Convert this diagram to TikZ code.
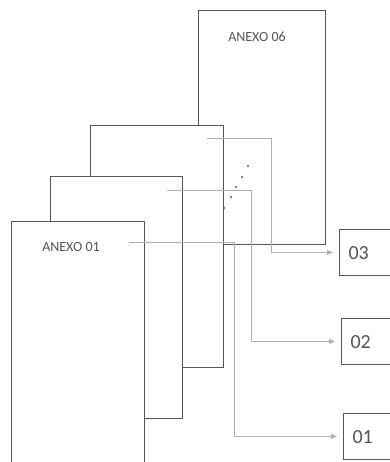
\documentclass[tikz,border=0pt]{standalone}
\usepackage{fontspec}
\setmainfont{Carlito}
\usepackage{xcolor}
\usetikzlibrary{arrows.meta, positioning, calc}
\definecolor{sheetgray}{RGB}{85,85,85}
\definecolor{arrgray}{RGB}{175,175,175}

\begin{document}
\begin{tikzpicture}[x=1pt, y=-1pt,
    sheet/.style={rectangle, draw=sheetgray, fill=white, line width=0.8pt, anchor=north west, inner sep=0pt, minimum width=#1},
    tag/.style={rectangle, draw=sheetgray, fill=white, line width=0.8pt, anchor=north west, inner sep=0pt, minimum width=60pt, minimum height=46pt},
    arr/.style={-{Triangle[length=6pt, width=5pt]}, line width=0.9pt, arrgray, shorten >=6pt},
    lbl/.style={font=\fontsize{14}{16}\selectfont, text=sheetgray},
    num/.style={font=\fontsize{20}{23}\selectfont, text=sheetgray}
]
\useasboundingbox (0,0) rectangle (389,462);

% stacked sheets, back to front
\node[sheet=127pt, minimum height=234pt] (p6) at (198,10) {};
\node[sheet=133pt, minimum height=242pt] (p3) at (90,125) {};
\node[sheet=132pt, minimum height=242pt] (p2) at (50,176) {};
\node[sheet=133pt, minimum height=260pt] (p1) at (11,221) {};
\node[lbl] (t6) at (257,37) {ANEXO 06};
\node[lbl] (t1) at (71,247) {ANEXO 01};

% continuation dots
\foreach \px/\py in {248/166, 242/177, 236/187, 231/197, 224/208}
    \fill[sheetgray] (\px,\py) circle (1.1pt);

% target boxes
\node[tag] (b03) at (339,229) {};
\node[tag] (b02) at (341,318) {};
\node[tag] (b01) at (343,413) {};
\node[num, anchor=west] at ($(b03.west)+(6,1)$) {03};
\node[num, anchor=west] at ($(b02.west)+(6,1)$) {02};
\node[num, anchor=west] at ($(b01.west)+(6,1)$) {01};

% links
\coordinate (s3) at (207,138);
\coordinate (s2) at (167,190);
\coordinate (s1) at (129,242);
\draw[arr] (s3) -- (271,138) |- (b03.west);
\draw[arr] (s2) -- (251,190) |- (b02.west);
\draw[arr] (s1) -- (234,242) |- (b01.west);
\end{tikzpicture}
\end{document}
